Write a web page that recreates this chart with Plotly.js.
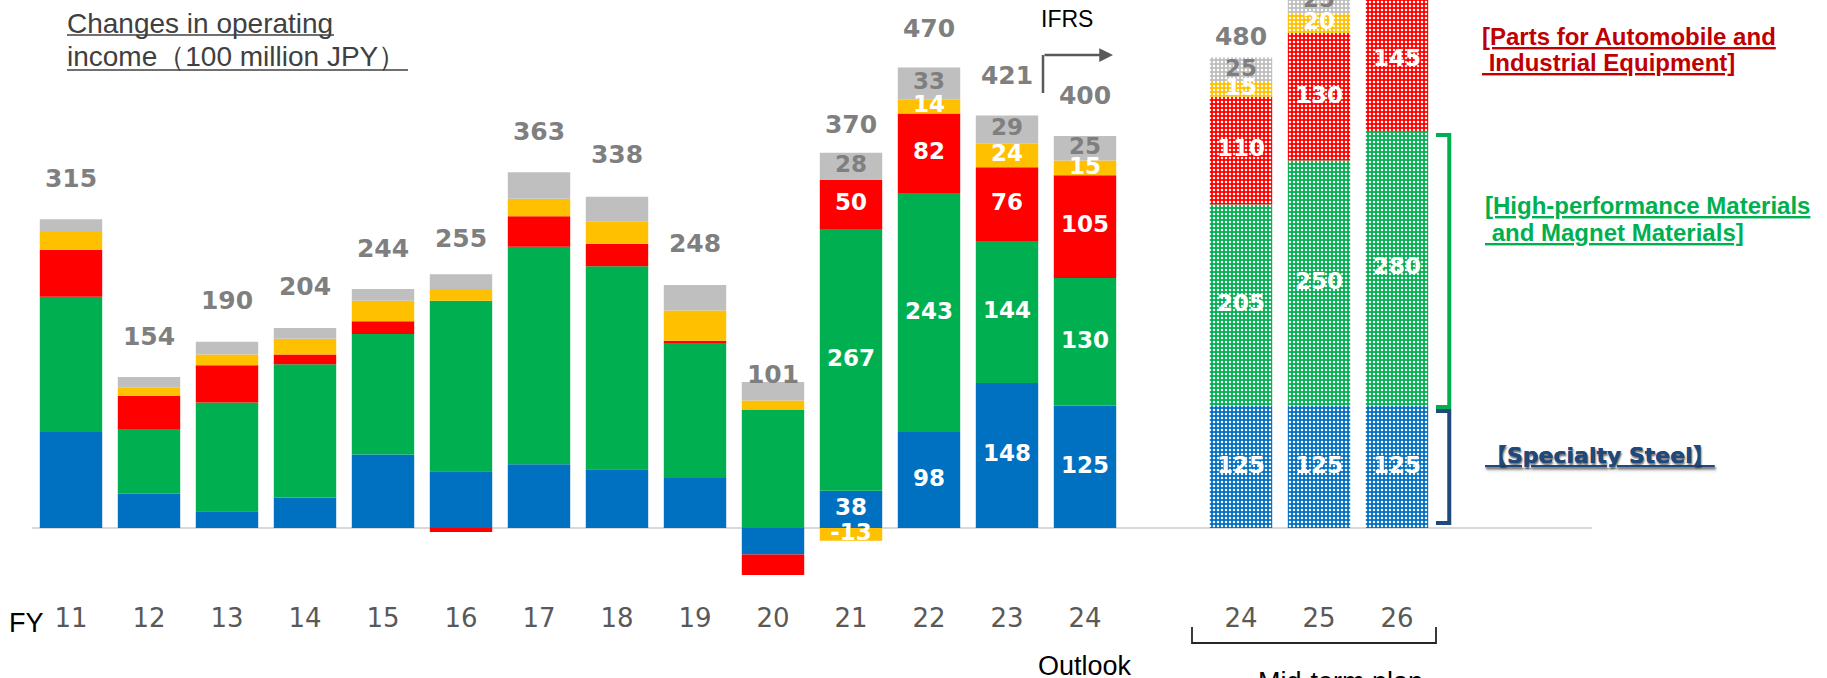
<!DOCTYPE html>
<html><head><meta charset="utf-8">
<script src="https://cdn.plot.ly/plotly-3.0.1.min.js"></script>
<style>html,body{margin:0;padding:0;background:#fff}#chart{width:1827px;height:678px}</style>
</head><body><div id="chart"></div>
<script>
// ---------------- data ----------------
const tickLabels = ['11','12','13','14','15','16','17','18','19','20','21','22','23','24','24','25','26'];
const slots      = [0,1,2,3,4,5,6,7,8,9,10,11,12,13,15,16,17];
const planCount  = 3;          // last three bars = mid-term plan
const firstLabelled = 10;      // segment values shown from FY21 on
const specialtySteel    = [98,35,17,31,75,58,65,60,51,-27,38,98,148,125,125,125,125];
const highPerfMaterials = [138,66,111,136,123,174,222,207,137,121,267,243,144,130,205,250,280];
const autoParts         = [48,34,38,10,13,-4,31,23,3,-21,50,82,76,105,110,130,145];
const engineering       = [18,8,11,16,21,12,18,23,31,9,-13,14,24,15,15,20,20];
const otherSegments     = [13,11,13,11,12,15,27,25,26,19,28,33,29,25,25,25,30];
const totals            = [315,154,190,204,244,255,363,338,248,101,370,470,421,400,480,550,600];

// ---------------- styling ----------------
const series = [
  {name:'Specialty Steel', values:specialtySteel, color:'#0070C0', text:'#FFFFFF'},
  {name:'High-performance Materials and Magnet Materials', values:highPerfMaterials, color:'#00B050', text:'#FFFFFF'},
  {name:'Parts for Automobile and Industrial Equipment', values:autoParts, color:'#FF0000', text:'#FFFFFF'},
  {name:'Engineering', values:engineering, color:'#FFC000', text:'#FFFFFF'},
  {name:'Others', values:otherSegments, color:'#BFBFBF', text:'#7F7F7F'}
];
const totalLiftPx = [39,38,39,39,38,33,39,40,39,5,26,37,38,38,19,39,39];

const W = 1827, H = 678;
const M = {l:32, r:235, t:0, b:78};
const PW = W - M.l - M.r, PH = H - M.t - M.b;
const pxPerUnit = 0.98;
const zeroPx = 528;
const yMax = (zeroPx - M.t) / pxPerUnit;
const yMin = yMax - PH / pxPerUnit;
const px2x = px => (px - M.l) / PW;
const px2y = py => (M.t + PH - py) / PH;

const n = slots.length;
const isPlan = slots.map((s,i) => i >= n - planCount);

// stacking (relative mode) to place labels
const posTop = new Array(n).fill(0), negTop = new Array(n).fill(0);
const segX = [], segY = [], segT = [], segC = [];
series.forEach(s => {
  s.values.forEach((v,i) => {
    let a, b;
    if (v >= 0) { a = posTop[i]; b = a + v; posTop[i] = b; }
    else { a = negTop[i]; b = a + v; negTop[i] = b; }
    if (i >= firstLabelled) {
      segX.push(slots[i]); segY.push((a+b)/2); segT.push(String(v)); segC.push(s.text);
    }
  });
});

const traces = series.map(s => ({
  type:'bar', name:s.name, x:slots, y:s.values,
  marker:{color:s.color, line:{width:0},
    pattern:{shape:isPlan.map(p => p ? '.' : ''), fillmode:'overlay', fgcolor:'#FFFFFF', fgopacity:1, size:4, solidity:0.3}},
  hoverinfo:'skip', showlegend:false
}));

traces.push({
  type:'scatter', mode:'text', x:segX, y:segY, text:segT,
  textposition:'middle center',
  textfont:{family:'DejaVu Sans', size:23, color:segC, weight:'bold'},
  hoverinfo:'skip', showlegend:false
});
traces.push({
  type:'scatter', mode:'text', x:slots,
  y:posTop.map((t,i) => t + totalLiftPx[i] / pxPerUnit),
  text:totals.map(String),
  textposition:'middle center',
  textfont:{family:'DejaVu Sans', size:25, color:'#7F7F7F', weight:'bold'},
  hoverinfo:'skip', showlegend:false
});

// bracket positions from the last plan bar
const last = n - 1, lx = slots[last];
const bSteel = specialtySteel[last], bHpm = bSteel + highPerfMaterials[last], bParts = bHpm + autoParts[last];
const bx0 = lx + 0.5, bx1 = lx + 0.67;
function bracket(y0, y1, color) {
  return {type:'path', xref:'x', yref:'y', layer:'above',
    path:`M ${bx0} ${y1} L ${bx1} ${y1} L ${bx1} ${y0} L ${bx0} ${y0}`,
    line:{color:color, width:4}};
}

const annFont = (size, color, extra) => Object.assign({family:'Liberation Sans, Arial, sans-serif', size:size, color:color}, extra || {});
const annotations = [
  {xref:'paper', yref:'paper', x:px2x(65), y:px2y(23), xanchor:'left', yanchor:'middle', showarrow:false,
   text:'Changes in operating', font:annFont(28,'#404040')},
  {xref:'paper', yref:'paper', x:px2x(65), y:px2y(57), xanchor:'left', yanchor:'middle', showarrow:false,
   text:'income（100 million JPY）', font:annFont(28,'#404040')},
  {xref:'paper', yref:'paper', x:px2x(1067), y:px2y(19), xanchor:'center', yanchor:'middle', showarrow:false,
   text:'IFRS', font:annFont(23,'#000000')},
  {xref:'paper', yref:'paper', x:px2x(1113), y:px2y(55), ax:-70, ay:0, text:'', showarrow:true,
   arrowhead:2, arrowsize:1.1, arrowwidth:2.5, arrowcolor:'#595959', standoff:0, startstandoff:0},
  {xref:'paper', yref:'paper', x:px2x(26), y:px2y(623), xanchor:'center', yanchor:'middle', showarrow:false,
   text:'FY', font:annFont(27,'#000000')},
  {xref:'x', yref:'paper', x:slots[n-planCount-1], y:px2y(666), xanchor:'center', yanchor:'middle', showarrow:false,
   text:'Outlook', font:annFont(27,'#000000')},
  {xref:'paper', yref:'paper', x:px2x(1340), y:px2y(682), xanchor:'center', yanchor:'middle', showarrow:false,
   text:'Mid-term plan', font:annFont(27,'#000000')},
  {xref:'paper', yref:'paper', x:px2x(1480), y:px2y(37), xanchor:'left', yanchor:'middle', showarrow:false,
   text:'[Parts for Automobile and', font:annFont(24,'#C00000',{weight:'bold', lineposition:'under'})},
  {xref:'paper', yref:'paper', x:px2x(1480), y:px2y(62), xanchor:'left', yanchor:'middle', showarrow:false,
   text:'\u00a0Industrial Equipment]', font:annFont(24,'#C00000',{weight:'bold', lineposition:'under'})},
  {xref:'paper', yref:'paper', x:px2x(1483), y:px2y(205), xanchor:'left', yanchor:'middle', showarrow:false,
   text:'[High-performance Materials', font:annFont(24,'#00B050',{weight:'bold', lineposition:'under'})},
  {xref:'paper', yref:'paper', x:px2x(1483), y:px2y(233), xanchor:'left', yanchor:'middle', showarrow:false,
   text:'\u00a0and Magnet Materials]', font:annFont(24,'#00B050',{weight:'bold', lineposition:'under'})},
  {xref:'paper', yref:'paper', x:px2x(1483), y:px2y(455), xanchor:'left', yanchor:'middle', showarrow:false,
   text:'【Specialty Steel】', font:{family:'DejaVu Sans, Noto Sans CJK JP', size:22, color:'#1F497D', weight:'bold',
     lineposition:'under', shadow:'1px 2px 2px rgba(0,0,0,0.35)'}}
];

const shapes = [
  {type:'line', xref:'paper', yref:'paper', x0:px2x(67), x1:px2x(334), y0:px2y(35), y1:px2y(35), line:{color:'#404040', width:1.5}},
  {type:'line', xref:'paper', yref:'paper', x0:px2x(67), x1:px2x(408), y0:px2y(70), y1:px2y(70), line:{color:'#404040', width:1.5}},
  {type:'line', xref:'paper', yref:'paper', x0:px2x(1043), x1:px2x(1043), y0:px2y(93), y1:px2y(55), line:{color:'#595959', width:2.5}},
  {type:'path', xref:'paper', yref:'paper',
   path:`M ${px2x(1192)} ${px2y(627)} L ${px2x(1192)} ${px2y(643)} L ${px2x(1436)} ${px2y(643)} L ${px2x(1436)} ${px2y(627)}`,
   line:{color:'#262626', width:1.8}},
  bracket(bParts + 4, yMax + 20, '#C00000'),
  bracket(bSteel - 1.5, bHpm - 4, '#00B050'),
  bracket(5, bSteel - 5.5, '#1F497D')
];

const layout = {
  width:W, height:H, margin:M, paper_bgcolor:'#FFFFFF', plot_bgcolor:'#FFFFFF',
  barmode:'relative', bargap:0.2,
  font:{family:'DejaVu Sans, sans-serif'},
  xaxis:{range:[-0.5, 19.5], tickmode:'array', tickvals:slots, ticktext:tickLabels,
    showgrid:false, zeroline:false, showline:false, ticks:'',
    tickfont:{family:'DejaVu Sans', size:26, color:'#595959'}, fixedrange:true},
  yaxis:{range:[yMin, yMax], showgrid:false, showticklabels:false, ticks:'',
    zeroline:true, zerolinecolor:'#D9D9D9', zerolinewidth:2, showline:false, fixedrange:true},
  annotations:annotations, shapes:shapes, showlegend:false
};

Plotly.newPlot('chart', traces, layout, {staticPlot:true, displayModeBar:false});
</script>
</body></html>
